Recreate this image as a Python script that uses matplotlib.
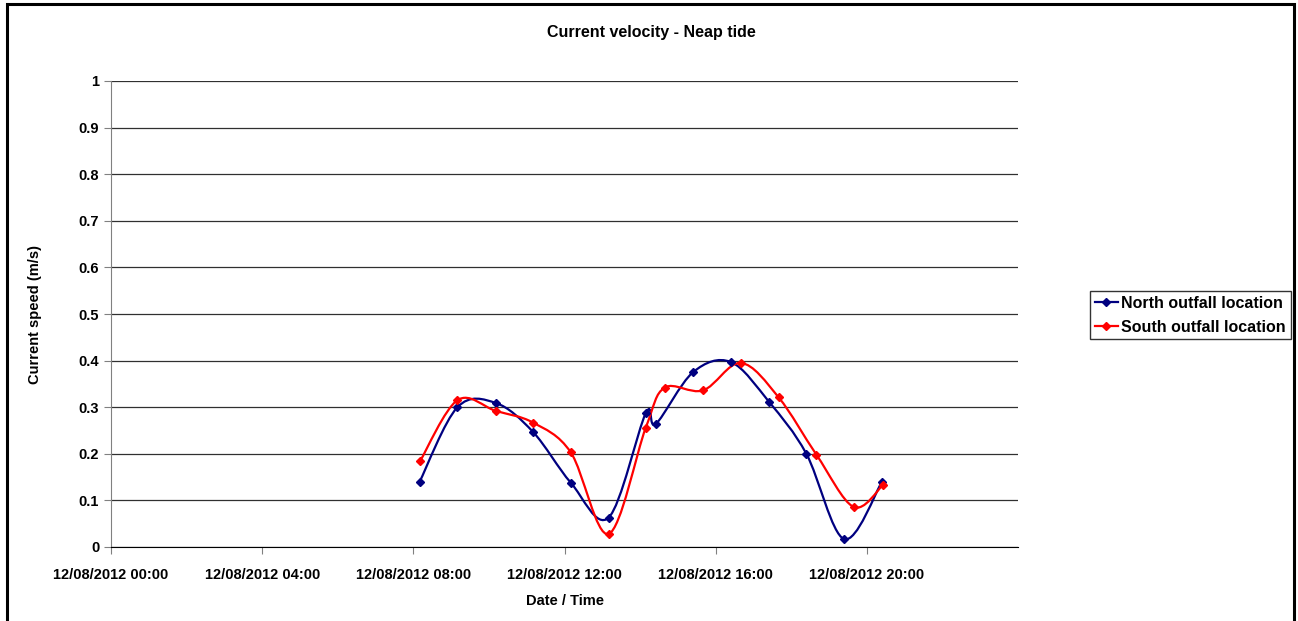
import datetime as dt
import matplotlib
matplotlib.use("Agg")
import matplotlib.pyplot as plt
import matplotlib.dates as mdates
from matplotlib.path import Path
from matplotlib.patches import PathPatch, Rectangle
from matplotlib.lines import Line2D

plt.rcParams['font.family'] = ['Liberation Sans', 'DejaVu Sans']
plt.rcParams['font.weight'] = 'bold'

# data (12/08/2012)
north_times = ["08:10", "09:10", "10:11", "11:10", "12:10", "13:10", "14:09",
               "14:25", "15:24", "16:24", "17:25", "18:24", "19:24", "20:24"]
north_speed = [0.140, 0.300, 0.309, 0.247, 0.138, 0.063, 0.287,
               0.264, 0.375, 0.397, 0.311, 0.200, 0.017, 0.140]

south_times = ["08:11", "09:10", "10:11", "11:10", "12:10", "13:10", "14:09",
               "14:39", "15:40", "16:40", "17:40", "18:40", "19:39", "20:25"]
south_speed = [0.185, 0.315, 0.292, 0.267, 0.203, 0.028, 0.256,
               0.342, 0.336, 0.395, 0.321, 0.198, 0.086, 0.132]

day = "12/08/2012"
tick_hours = [0, 4, 8, 12, 16, 20]


def to_dates(times):
    return [dt.datetime.strptime(day + " " + t, "%d/%m/%Y %H:%M") for t in times]


def smooth_path(xs, ys):
    # excel style smoothed line: cubic bezier through the points
    n = len(xs)
    verts = [(xs[0], ys[0])]
    codes = [Path.MOVETO]
    for i in range(n - 1):
        x0, y0 = xs[max(i - 1, 0)], ys[max(i - 1, 0)]
        x1, y1 = xs[i], ys[i]
        x2, y2 = xs[i + 1], ys[i + 1]
        x3, y3 = xs[min(i + 2, n - 1)], ys[min(i + 2, n - 1)]
        c1 = (x1 + (x2 - x0) / 6, y1 + (y2 - y0) / 6)
        c2 = (x2 - (x3 - x1) / 6, y2 - (y3 - y1) / 6)
        verts += [c1, c2, (x2, y2)]
        codes += [Path.CURVE4] * 3
    return Path(verts, codes)


W, H = 1298, 621
fig = plt.figure(figsize=(W / 100, H / 100), dpi=100)
ax = fig.add_axes([111 / W, 1 - 547 / H, (1018 - 111) / W, (547 - 81) / H])

start = dt.datetime(2012, 8, 12)
series = [(north_times, north_speed, "#000080", "North outfall location"),
          (south_times, south_speed, "#ff0000", "South outfall location")]
handles = []
for times, speed, col, name in series:
    xs = mdates.date2num(to_dates(times))
    ax.add_patch(PathPatch(smooth_path(list(xs), speed), facecolor="none",
                           edgecolor=col, lw=1.6, zorder=3))
    ax.plot(xs, speed, linestyle="none", marker="D", markersize=4.5,
            color=col, zorder=4)
    handles.append(Line2D([], [], color=col, lw=1.6, marker="D", markersize=4.5))

ax.set_xlim(start, start + dt.timedelta(hours=24))
ax.set_ylim(0, 1)
ax.set_xticks([start + dt.timedelta(hours=h) for h in tick_hours])
ax.xaxis.set_major_formatter(mdates.DateFormatter("%d/%m/%Y %H:%M"))
ax.set_yticks([i / 10 for i in range(11)])
ax.set_yticklabels(["0"] + ["%.1f" % (i / 10) for i in range(1, 10)] + ["1"])
ax.tick_params(labelsize=10.5, length=5, width=0.8, color="#808080")
ax.tick_params(axis="x", pad=10)
ax.grid(axis="y", color="#303030", lw=0.9)
for s in ["top", "right"]:
    ax.spines[s].set_visible(False)
ax.spines["left"].set_color("#808080")
ax.spines["bottom"].set_color("#000000")

ax.set_xlabel("Date / Time", fontsize=10.5, fontweight="bold", labelpad=9)
ax.set_ylabel("Current speed (m/s)", fontsize=10.5, fontweight="bold", labelpad=26)
fig.text(651 / W, 1 - 33 / H, "Current velocity - Neap tide", ha="center",
         va="center", fontsize=11.5, fontweight="bold")

leg = fig.legend(handles, [s[3] for s in series], loc="upper left",
                 bbox_to_anchor=(1090 / W, 1 - 291 / H), fontsize=11.5,
                 frameon=True, fancybox=False, edgecolor="black",
                 borderpad=0.3, borderaxespad=0, handlelength=1.45,
                 handletextpad=0.2, labelspacing=0.55)
leg.get_frame().set_linewidth(1.0)

fig.add_artist(Rectangle((7 / W, -0.1), (1294 - 7) / W, 1.1 - 4 / H,
                         transform=fig.transFigure, fill=False,
                         edgecolor="black", lw=2.2))

fig.savefig("out.png", dpi=100)
